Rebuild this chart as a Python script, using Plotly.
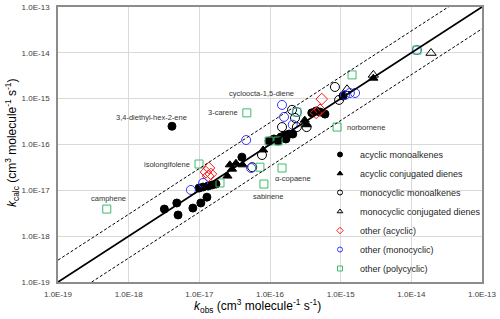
import math
import plotly.graph_objects as go

# ---------------- data ----------------
acyclic_mono_x = [4.1e-18, 3.2e-18, 4.8e-18, 5.0e-18, 8.1e-18, 1.05e-17, 1.28e-17, 9.9e-18, 1.13e-17,
                  1.33e-17, 1.51e-17, 1.72e-17, 4.0e-17, 9.7e-17, 1.30e-16, 1.43e-16, 1.63e-16, 1.86e-16,
                  2.1e-16, 1.68e-16, 1.14e-16, 3.9e-16, 4.5e-16, 5.1e-16, 6.0e-16, 1.08e-15]
acyclic_mono_y = [2.5e-16, 3.9e-18, 5.3e-18, 2.9e-18, 4.1e-18, 5.3e-18, 7.1e-18, 1.12e-17, 1.18e-17,
                  1.24e-17, 1.31e-17, 1.37e-17, 5.3e-17, 1.19e-16, 1.19e-16, 1.46e-16, 1.61e-16, 1.69e-16,
                  1.69e-16, 1.32e-16, 1.32e-16, 4.9e-16, 5.4e-16, 5.1e-16, 4.6e-16, 1.14e-15]

acyclic_diene_x = [2.7e-17, 2.9e-17, 2.5e-17, 3.3e-17, 4.1e-17, 8.0e-17, 3.1e-16, 3.3e-16, 2.9e-15]
acyclic_diene_y = [3.6e-17, 2.9e-17, 2.05e-17, 3.9e-17, 3.6e-17, 7.6e-17, 3.4e-16, 2.7e-16, 2.8e-15]

mono_mono_x = [8.3e-16, 9.5e-16, 2.05e-16, 1.48e-16, 2.4e-16, 3.3e-16, 7.7e-17, 5.6e-17, 2.26e-16]
mono_mono_y = [1.8e-15, 9.4e-16, 5.7e-16, 2.4e-16, 2.4e-16, 2.4e-16, 5.9e-17, 3.2e-17, 3.8e-16]

mono_diene_x = [1.9e-14, 2.9e-15, 1.23e-15]
mono_diene_y = [9.9e-15, 3.3e-15, 1.6e-15]

other_acyclic_x = [1.24e-17, 1.37e-17, 1.33e-17, 1.46e-17, 5.4e-16, 5.1e-16, 4.5e-16]
other_acyclic_y = [2.5e-17, 3.07e-17, 2.05e-17, 2.27e-17, 9.8e-16, 5.7e-16, 4.9e-16]

other_mono_x = [7.6e-18, 1.13e-17, 4.6e-17, 5.4e-17, 1.48e-16, 1.58e-16, 2.1e-16, 1.15e-15, 1.35e-15,
                1.6e-15, 1.2e-14, 2.4e-16]
other_mono_y = [1.02e-17, 1.45e-17, 1.25e-16, 3.07e-17, 7.3e-16, 4.0e-16, 2.7e-16, 1.2e-15, 1.33e-15,
                1.33e-15, 1.15e-14, 5.1e-16]

other_poly_x = [4.9e-19, 9.9e-18, 1.96e-17, 4.7e-17, 2.4e-16, 9.7e-17, 1.30e-16, 1.48e-16, 8.2e-17,
                7.2e-17, 8.9e-16, 1.45e-15, 1.2e-14]
other_poly_y = [3.9e-18, 3.75e-17, 1.45e-17, 4.9e-16, 5.1e-16, 1.19e-16, 1.19e-16, 3.07e-17, 1.37e-17,
                3.2e-17, 2.4e-16, 3.3e-15, 1.15e-14]

series_names = ["acyclic monoalkenes", "acyclic conjugated dienes", "monocyclic monoalkenes",
                "monocyclic conjugated dienes", "other (acyclic)", "other (monocyclic)", "other (polycyclic)"]

label_texts = ["3,4-diethyl-hex-2-ene", "3-carene", "cycloocta-1,5-diene", "norbornene",
               "isolongifolene", "camphene", "α-copaene", "sabinene"]
label_series = ["acyclic_mono", "other_poly", "other_mono", "other_poly",
                "other_poly", "other_poly", "other_poly", "other_poly"]
label_index = [0, 3, 4, 10, 1, 0, 7, 8]

line_x = [1e-19, 1e-13]
band_factor = 3.0

tick_vals = [1e-19, 1e-18, 1e-17, 1e-16, 1e-15, 1e-14, 1e-13]
tick_text = ["1.0E-19", "1.0E-18", "1.0E-17", "1.0E-16", "1.0E-15", "1.0E-14", "1.0E-13"]

# ---------------- styling ----------------
FONT = "Arial, 'Liberation Sans', sans-serif"
GREEN = "#3dbb6b"
BLUE = "#3535ff"
RED = "#ff1a1a"

series = {
    "acyclic_mono": (acyclic_mono_x, acyclic_mono_y, dict(symbol="circle", color="black", size=8)),
    "acyclic_diene": (acyclic_diene_x, acyclic_diene_y, dict(symbol="triangle-up", color="black", size=8)),
    "mono_mono": (mono_mono_x, mono_mono_y, dict(symbol="circle-open", color="black", size=9)),
    "mono_diene": (mono_diene_x, mono_diene_y, dict(symbol="triangle-up-open", color="black", size=9)),
    "other_acyclic": (other_acyclic_x, other_acyclic_y, dict(symbol="diamond-open", color=RED, size=9)),
    "other_mono": (other_mono_x, other_mono_y, dict(symbol="circle-open", color=BLUE, size=9)),
    "other_poly": (other_poly_x, other_poly_y, dict(symbol="square-open", color=GREEN, size=8)),
}

fig = go.Figure()

keys = list(series.keys())
for key, name in zip(keys, series_names):
    xs, ys, m = series[key]
    fig.add_trace(go.Scatter(
        x=xs, y=ys, mode="markers", name=name, showlegend=False,
        marker=dict(symbol=m["symbol"], color=m["color"], size=m["size"],
                    line=dict(width=1, color=m["color"])),
        hoverinfo="x+y",
    ))

# 1:1 line and factor-of-3 band
fig.add_trace(go.Scatter(x=line_x, y=line_x, mode="lines", showlegend=False,
                         line=dict(color="black", width=1.8), hoverinfo="skip"))
fig.add_trace(go.Scatter(x=line_x, y=[v * band_factor for v in line_x], mode="lines", showlegend=False,
                         line=dict(color="black", width=1, dash="3px,2px"), hoverinfo="skip"))
fig.add_trace(go.Scatter(x=line_x, y=[v / band_factor for v in line_x], mode="lines", showlegend=False,
                         line=dict(color="black", width=1, dash="3px,2px"), hoverinfo="skip"))

# legend-only entries (small symbols like the reference)
for key, name in zip(keys, series_names):
    m = series[key][2]
    fig.add_trace(go.Scatter(
        x=[None], y=[None], mode="markers", name=name, showlegend=True,
        marker=dict(symbol=m["symbol"], color=m["color"], size=5, line=dict(width=1, color=m["color"])),
    ))

# point labels
label_offsets = {  # (xshift, yshift, xanchor)
    "3,4-diethyl-hex-2-ene": (-20, 9, "center"),
    "3-carene": (-7, 0, "right"),
    "cycloocta-1,5-diene": (-21, 11, "center"),
    "norbornene": (8, 0, "left"),
    "isolongifolene": (-7, 0, "right"),
    "camphene": (2, 11, "center"),
    "α-copaene": (11, -10, "center"),
    "sabinene": (4, -12, "center"),
}
for txt, sk, idx in zip(label_texts, label_series, label_index):
    xs, ys, _ = series[sk]
    dx, dy, xa = label_offsets[txt]
    fig.add_annotation(x=math.log10(xs[idx]), y=math.log10(ys[idx]), text=txt, showarrow=False,
                       xshift=dx, yshift=dy, xanchor=xa, yanchor="middle",
                       font=dict(family=FONT, size=7.5, color="#333333"))

# plot area geometry in pixels
W, H = 500, 319
L, R, T, B = 58, 482, 7, 282
pw, ph = R - L, B - T


def px(x):
    return (x - L) / pw


def py(y):
    return (B - y) / ph


# axis titles
fig.add_annotation(xref="paper", yref="paper", x=px(257), y=py(306), showarrow=False,
                   text="<i>k</i><sub>obs</sub> (cm<sup>3</sup> molecule<sup>-1</sup> s<sup>-1</sup>)",
                   font=dict(family=FONT, size=12, color="black"), xanchor="center", yanchor="middle")
fig.add_annotation(xref="paper", yref="paper", x=px(12), y=py(143), showarrow=False, textangle=-90,
                   text="<i>k</i><sub>calc</sub> (cm<sup>3</sup> molecule<sup>-1</sup> s<sup>-1</sup>)",
                   font=dict(family=FONT, size=12, color="black"), xanchor="center", yanchor="middle")

# white legend background hiding the gridlines
fig.add_shape(type="rect", xref="paper", yref="paper", x0=px(339), x1=px(476), y0=py(272), y1=py(145),
              fillcolor="white", line=dict(width=0), layer="between")

axis_common = dict(
    type="log", tickvals=tick_vals, ticktext=tick_text, showgrid=True, gridcolor="#d9d9d9", gridwidth=1,
    showline=True, linecolor="#8c8c8c", linewidth=1.5, mirror=True, ticks="", zeroline=False,
    tickfont=dict(family=FONT, size=8, color="#404040"), automargin=False,
)
fig.update_xaxes(range=[-19, -13], ticklabelstandoff=4, **axis_common)
fig.update_yaxes(range=[-19, -13], ticklabelstandoff=5, **axis_common)

fig.update_layout(
    width=W, height=H,
    margin=dict(l=L, r=W - R, t=T, b=H - B, pad=0, autoexpand=False),
    plot_bgcolor="white", paper_bgcolor="white",
    font=dict(family=FONT),
    legend=dict(x=px(320), y=py(140), xanchor="left", yanchor="top", bgcolor="rgba(0,0,0,0)",
                font=dict(family=FONT, size=9, color="#262626"), itemwidth=30, tracegroupgap=0),
)

fig.write_html("out.html", config={"displayModeBar": False},
               post_script="document.body.style.margin='0';document.body.style.padding='0';")
